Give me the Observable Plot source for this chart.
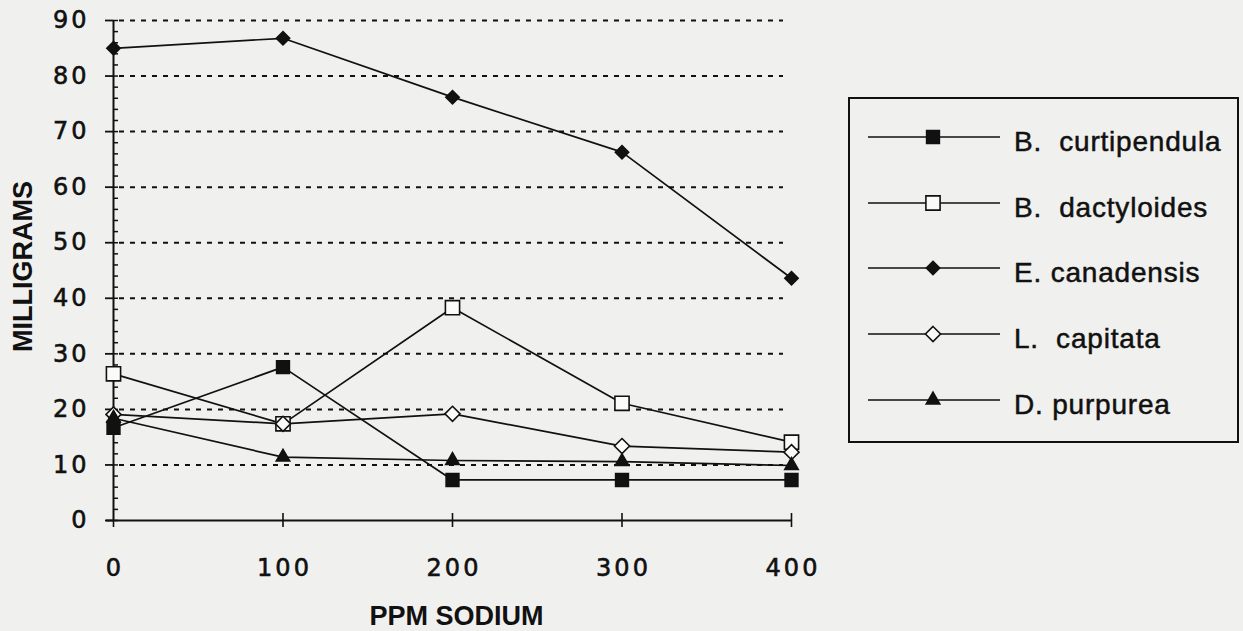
<!DOCTYPE html>
<html>
<head>
<meta charset="utf-8">
<script src="https://cdn.jsdelivr.net/npm/d3@7"></script>
<script src="https://cdn.jsdelivr.net/npm/@observablehq/plot@0.6"></script>
<style>
  html, body { margin: 0; padding: 0; background: #f0f0ee; }
  #wrap { position: relative; width: 1243px; height: 631px; overflow: hidden; }
  #chart svg { display: block; }
  g[aria-label="y-axis tick label"] text, g[aria-label="x-axis tick label"] text {
    letter-spacing: 3px; stroke: #111; stroke-width: 0.6px; }
  g[aria-label="axis-title"] text { letter-spacing: -0.7px; }
  #legend { position: absolute; left: 848px; top: 97px; width: 387px; height: 337px;
    border: 2px solid #111; padding-top: 5px; font-family: "Liberation Sans", Arial, sans-serif; color: #111; }
  .row { display: flex; align-items: center; height: 65.7px; }
  .row svg { flex: none; display: block; }
  .row span { margin-left: 14px; font-size: 28px; letter-spacing: 0.8px; white-space: pre; position: relative; top: 5px;
    -webkit-text-stroke: 0.5px #111; }
</style>
</head>
<body>
<div id="wrap">
  <div id="chart"></div>
  <div id="legend"></div>
</div>
<script>
// ---- data ----
const ppm = [0, 100, 200, 300, 400];
const species = ["B. curtipendula", "B. dactyloides", "E. canadensis", "L. capitata", "D. purpurea"];
const legendLabels = ["B.  curtipendula", "B.  dactyloides", "E. canadensis", "L.  capitata", "D. purpurea"];
const curtipendula = [16.7, 27.6, 7.3, 7.3, 7.3];
const dactyloides = [26.4, 17.4, 38.3, 21.1, 14.1];
const canadensis = [85.0, 86.8, 76.2, 66.3, 43.6];
const capitata = [19.1, 17.4, 19.2, 13.4, 12.3];
const purpurea = [18.4, 11.4, 10.8, 10.6, 9.9];
const yTicks = [0, 10, 20, 30, 40, 50, 60, 70, 80, 90];
const yMinorTicks = d3.range(0, 91, 2);
const gridTicks = [10, 20, 30, 40, 50, 60, 70, 80, 90];
const xTicks = [0, 100, 200, 300, 400];

const seriesValues = [curtipendula, dactyloides, canadensis, capitata, purpurea];
const rows = species.flatMap((s, i) => ppm.map((p, j) => ({species: s, ppm: p, mg: seriesValues[i][j]})));

// ---- styles ----
const ink = "#111";
const openFill = "#fbfbfa";
const markerStyle = {
  "B. curtipendula": {symbol: "square", fill: ink, r: 7.2},
  "B. dactyloides": {symbol: "square", fill: openFill, r: 8.0},
  "E. canadensis": {symbol: "diamond2", fill: ink, r: 6.0},
  "L. capitata": {symbol: "diamond2", fill: openFill, r: 6.8},
  "D. purpurea": {symbol: "triangle", fill: ink, r: 5.0}
};
const drawOrder = ["B. dactyloides", "L. capitata", "B. curtipendula", "D. purpurea", "E. canadensis"];
const titleFont = "'Liberation Sans', Arial, sans-serif";

const chart = Plot.plot({
  width: 1243,
  height: 631,
  marginLeft: 113,
  marginRight: 452,
  marginTop: 20,
  marginBottom: 111,
  x: {domain: [0, 400], axis: null},
  y: {domain: [0, 90], axis: null},
  style: {background: "transparent", fontFamily: "'DejaVu Sans', sans-serif", fontSize: "24px", color: ink},
  marks: [
    Plot.ruleY(gridTicks, {stroke: ink, strokeWidth: 2, strokeDasharray: "5,6", strokeDashoffset: 5, insetRight: 8}),
    Plot.axisY({ticks: yMinorTicks, tickSize: -5, tickFormat: () => "", label: null, strokeWidth: 1.5, stroke: ink}),
    Plot.axisY({ticks: yTicks, tickSize: 8, tickPadding: 16, tickFormat: d => String(d), label: null, strokeWidth: 1.8, stroke: ink, fill: ink, fontSize: 24}),
    Plot.axisX({ticks: xTicks, tickSize: 7, tickFormat: () => "", label: null, strokeWidth: 1.6, stroke: ink}),
    Plot.axisX({ticks: xTicks.slice(1), tickSize: -7, tickFormat: () => "", label: null, strokeWidth: 1.6, stroke: ink}),
    Plot.axisX({ticks: xTicks, tickSize: 0, tickPadding: 38, tickFormat: d => String(d), label: null, fill: ink, fontSize: 24, dx: 1.5}),
    Plot.ruleX([0], {stroke: ink, strokeWidth: 2}),
    Plot.ruleY([0], {stroke: ink, strokeWidth: 2, insetLeft: -7}),
    Plot.line(rows, {x: "ppm", y: "mg", z: "species", stroke: ink, strokeWidth: 1.7}),
    ...drawOrder.map(s => Plot.dot(rows.filter(d => d.species === s), {
      x: "ppm", y: "mg", symbol: markerStyle[s].symbol, r: markerStyle[s].r,
      fill: markerStyle[s].fill, stroke: ink, strokeWidth: 1.6
    })),
    Plot.text(["MILLIGRAMS"], {text: d => d, frameAnchor: "left", textAnchor: "middle", lineAnchor: "middle",
      rotate: -90, dx: -90, dy: -4, ariaLabel: "axis-title",
      fontFamily: titleFont, fontWeight: "bold", fontSize: 27, fill: ink}),
    Plot.text(["PPM SODIUM"], {text: d => d, frameAnchor: "bottom", textAnchor: "middle", lineAnchor: "bottom",
      dx: 4, dy: 104, ariaLabel: "axis-title",
      fontFamily: titleFont, fontWeight: "bold", fontSize: 27, fill: ink})
  ]
});
document.getElementById("chart").appendChild(chart);

// ---- legend ----
const symbolTypes = {square: d3.symbolSquare, diamond2: d3.symbolDiamond2, triangle: d3.symbolTriangle};
const legend = d3.select("#legend");
species.forEach((s, i) => {
  const row = legend.append("div").attr("class", "row");
  const svg = row.append("svg").attr("width", 150).attr("height", 66);
  svg.append("line").attr("x1", 18).attr("x2", 150).attr("y1", 33).attr("y2", 33)
    .attr("stroke", ink).attr("stroke-width", 1.6);
  const st = markerStyle[s];
  svg.append("path")
    .attr("d", d3.symbol(symbolTypes[st.symbol], st.r * st.r * Math.PI)())
    .attr("transform", "translate(83,33)")
    .attr("fill", st.fill).attr("stroke", ink).attr("stroke-width", 1.6);
  row.append("span").text(legendLabels[i]);
});
</script>
</body>
</html>
